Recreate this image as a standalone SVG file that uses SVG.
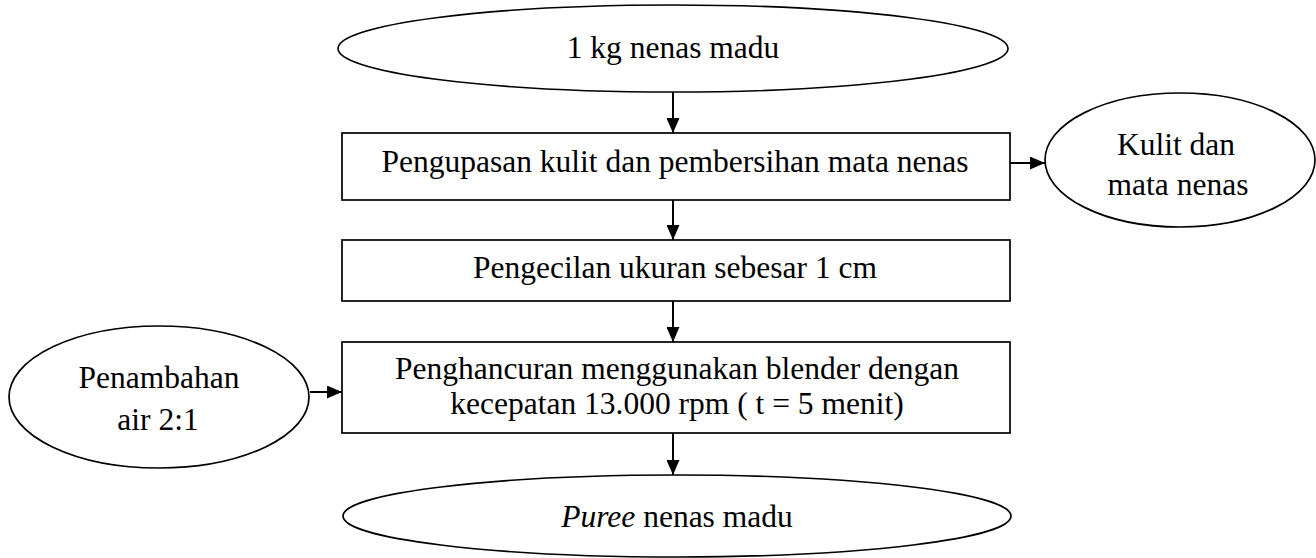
<svg xmlns="http://www.w3.org/2000/svg" width="1316" height="558" viewBox="0 0 1316 558">
<style>
.shape{fill:#fff;stroke:#000;stroke-width:1.7}
.t{font-family:"Liberation Serif","Times New Roman",serif;font-size:31.5px;fill:#000;text-anchor:middle}
.c{stroke:#000;stroke-width:2;fill:none;marker-end:url(#ah)}
</style>
<defs>
<marker id="ah" viewBox="0 0 15 13" refX="15" refY="6.5" markerWidth="15" markerHeight="13" markerUnits="userSpaceOnUse" orient="auto">
<path d="M0,0 L15,6.5 L0,13 z" fill="#000"/>
</marker>
</defs>
<g id="connectors">
<line class="c" x1="673" y1="92" x2="673" y2="133"/>
<line class="c" x1="673" y1="200" x2="673" y2="240"/>
<line class="c" x1="673" y1="301" x2="673" y2="342"/>
<line class="c" x1="673" y1="433" x2="673" y2="475"/>
<line class="c" x1="1010" y1="163" x2="1045" y2="163"/>
<line class="c" x1="310" y1="392" x2="342" y2="392"/>
</g>
<g id="n1">
<ellipse class="shape" cx="673" cy="48.5" rx="335" ry="43.5"/>
<text class="t" x="673" y="58">1 kg nenas madu</text>
</g>
<g id="n2">
<rect class="shape" x="342" y="133" width="668" height="67"/>
<text class="t" x="675" y="172">Pengupasan kulit dan pembersihan mata nenas</text>
</g>
<g id="n3">
<ellipse class="shape" cx="1180" cy="160" rx="135" ry="67"/>
<text class="t" x="1176" y="155">Kulit dan</text>
<text class="t" x="1178" y="195">mata nenas</text>
</g>
<g id="n4">
<rect class="shape" x="342" y="240" width="668" height="61"/>
<text class="t" x="675" y="278">Pengecilan ukuran sebesar 1 cm</text>
</g>
<g id="n5">
<ellipse class="shape" cx="159" cy="397" rx="150" ry="71"/>
<text class="t" x="159" y="388">Penambahan</text>
<text class="t" x="158" y="430">air 2:1</text>
</g>
<g id="n6">
<rect class="shape" x="342" y="342" width="668" height="91"/>
<text class="t" x="677" y="379">Penghancuran menggunakan blender dengan</text>
<text class="t" x="677" y="414">kecepatan 13.000 rpm ( t = 5 menit)</text>
</g>
<g id="n7">
<ellipse class="shape" cx="677" cy="516" rx="334" ry="41"/>
<text class="t" x="677" y="527"><tspan font-style="italic">Puree</tspan> nenas madu</text>
</g>
</svg>
